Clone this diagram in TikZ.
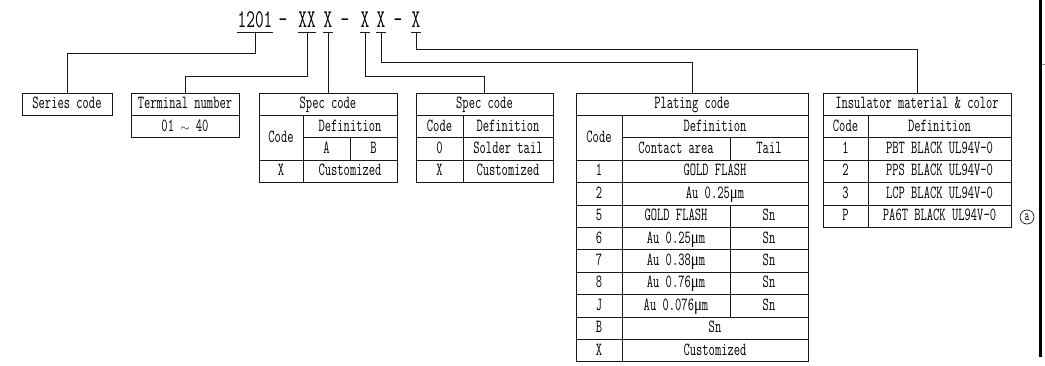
\documentclass[tikz,border=0pt]{standalone}
\usepackage{fontspec}
\usepackage{tikz}
\usetikzlibrary{calc}
\newfontfamily\cadfont{Latin Modern Mono}[FakeStretch=0.66]
\newfontfamily\mufont{Liberation Serif}[FakeStretch=0.8]
\definecolor{cadline}{HTML}{1A1A1A}
\definecolor{cadgray}{HTML}{8A8A8A}

% one table cell: name, x1, y1, x2, y2, text
\newcommand{\cell}[6]{%
  \node[cell, minimum width={(#4-#2)*1pt}, minimum height={(#5-#3)*1pt}]
    (#1) at ({(#2+#4)/2},{(#3+#5)/2}) {#6};}
\newcommand{\um}{{\mufont μ}m}
\newcommand{\rng}{{\fontsize{13}{13}\selectfont$\sim$}}

\begin{document}
\begin{tikzpicture}[x=1pt, y=-1pt,
    cell/.style={draw=cadline, line width=0.8pt, inner sep=0pt, text height=11pt, text depth=2pt,
                 font=\cadfont\fontsize{18.5}{18.5}\selectfont},
    code/.style={anchor=base, inner xsep=0.5pt, inner ysep=4pt, font=\cadfont\fontsize{25.5}{25.5}\selectfont},
    link/.style={draw=cadline, line width=0.8pt}
  ]
    \useasboundingbox (0,0) rectangle (1045,366);

    % part number
    \node[code] (c1201) at (255,28) {1201};
    \node[code] (dashA) at (283,28) {-};
    \node[code] (cXX)   at (307,28) {XX};
    \node[code] (cXa)   at (328,28) {X};
    \node[code] (dashB) at (345,28) {-};
    \node[code] (cXb)   at (365,28) {X};
    \node[code] (cXc)   at (381,28) {X};
    \node[code] (dashC) at (398,28) {-};
    \node[code] (cXd)   at (416,28) {X};
    \foreach \n in {c1201,cXX,cXa,cXb,cXc,cXd}
      \draw[link] (\n.south west) -- (\n.south east);

    % series / terminal
    \cell{series}{22}{93}{112}{115.4}{Series code}
    \cell{term}{131}{93}{239}{115.4}{Terminal number}
    \cell{termv}{131}{115.4}{239}{137.8}{01 \rng{} 40}

    % spec code (A/B)
    \cell{specA}{259}{93}{397}{115.4}{Spec code}
    \cell{specAc}{259}{115.4}{303}{160.2}{Code}
    \cell{specAd}{303}{115.4}{397}{137.8}{Definition}
    \cell{specAa}{303}{137.8}{350}{160.2}{A}
    \cell{specAb}{350}{137.8}{397}{160.2}{B}
    \cell{specAx}{259}{160.2}{303}{182.6}{X}
    \cell{specAxd}{303}{160.2}{397}{182.6}{Customized}

    % spec code (tail)
    \cell{specB}{416}{93}{553}{115.4}{Spec code}
    \cell{specBc}{416}{115.4}{463}{137.8}{Code}
    \cell{specBd}{463}{115.4}{553}{137.8}{Definition}
    \cell{specB0}{416}{137.8}{463}{160.2}{0}
    \cell{specB0d}{463}{137.8}{553}{160.2}{Solder tail}
    \cell{specBx}{416}{160.2}{463}{182.6}{X}
    \cell{specBxd}{463}{160.2}{553}{182.6}{Customized}

    % plating code
    \cell{plate}{576}{93}{808}{115.4}{Plating code}
    \cell{plateC}{576}{115.4}{622}{160.2}{Code}
    \cell{plateD}{622}{115.4}{808}{137.8}{Definition}
    \cell{plateCa}{622}{137.8}{730}{160.2}{Contact area}
    \cell{plateT}{730}{137.8}{808}{160.2}{Tail}
    \cell{pl1}{576}{160.2}{622}{182.6}{1}
    \cell{pl1d}{622}{160.2}{808}{182.6}{GOLD FLASH}
    \cell{pl2}{576}{182.6}{622}{205}{2}
    \cell{pl2d}{622}{182.6}{808}{205}{Au 0.25\um}
    \cell{pl5}{576}{205}{622}{227.4}{5}
    \cell{pl5d}{622}{205}{730}{227.4}{GOLD FLASH}
    \cell{pl5t}{730}{205}{808}{227.4}{Sn}
    \cell{pl6}{576}{227.4}{622}{249.8}{6}
    \cell{pl6d}{622}{227.4}{730}{249.8}{Au 0.25\um}
    \cell{pl6t}{730}{227.4}{808}{249.8}{Sn}
    \cell{pl7}{576}{249.8}{622}{272.2}{7}
    \cell{pl7d}{622}{249.8}{730}{272.2}{Au 0.38\um}
    \cell{pl7t}{730}{249.8}{808}{272.2}{Sn}
    \cell{pl8}{576}{272.2}{622}{294.6}{8}
    \cell{pl8d}{622}{272.2}{730}{294.6}{Au 0.76\um}
    \cell{pl8t}{730}{272.2}{808}{294.6}{Sn}
    \cell{plJ}{576}{294.6}{622}{317}{J}
    \cell{plJd}{622}{294.6}{730}{317}{Au 0.076\um}
    \cell{plJt}{730}{294.6}{808}{317}{Sn}
    \cell{plB}{576}{317}{622}{339.4}{B}
    \cell{plBd}{622}{317}{808}{339.4}{Sn}
    \cell{plX}{576}{339.4}{622}{361.8}{X}
    \cell{plXd}{622}{339.4}{808}{361.8}{Customized}

    % insulator
    \cell{insul}{823}{93}{1011}{115.4}{Insulator material \& color}
    \cell{insC}{823}{115.4}{868}{137.8}{Code}
    \cell{insD}{868}{115.4}{1011}{137.8}{Definition}
    \cell{ins1}{823}{137.8}{868}{160.2}{1}
    \cell{ins1d}{868}{137.8}{1011}{160.2}{PBT BLACK UL94V-0}
    \cell{ins2}{823}{160.2}{868}{182.6}{2}
    \cell{ins2d}{868}{160.2}{1011}{182.6}{PPS BLACK UL94V-0}
    \cell{ins3}{823}{182.6}{868}{205}{3}
    \cell{ins3d}{868}{182.6}{1011}{205}{LCP BLACK UL94V-0}
    \cell{insP}{823}{205}{868}{227.4}{P}
    \cell{insPd}{868}{205}{1011}{227.4}{PA6T BLACK UL94V-0}
    \node[circle, draw=cadline, line width=0.7pt, inner sep=0pt, minimum size=14pt,
          font=\cadfont\fontsize{15}{15}\selectfont] (markA) at (1027,217) {a};

    % leaders
    \draw[link] (c1201.south) -- ++(0,21) -| (series.north);
    \draw[link] (cXX.south)   -- ++(0,44) -| (term.north);
    \draw[link] (cXa.south)   -- (specA.north);
    \draw[link] (cXb.south)   -- ++(0,44) -| (specB.north);
    \draw[link] (cXc.south)   -- ++(0,30) -| (plate.north);
    \draw[link] (cXd.south)   -- ++(0,17) -| (insul.north);

    % frame edge
    \draw[line width=2.6pt] (1040.5,0) -- (1040.5,357);
    \draw[cadgray, line width=0.8pt] (1042,64) -- (1045,64);
  \end{tikzpicture}
\end{document}
